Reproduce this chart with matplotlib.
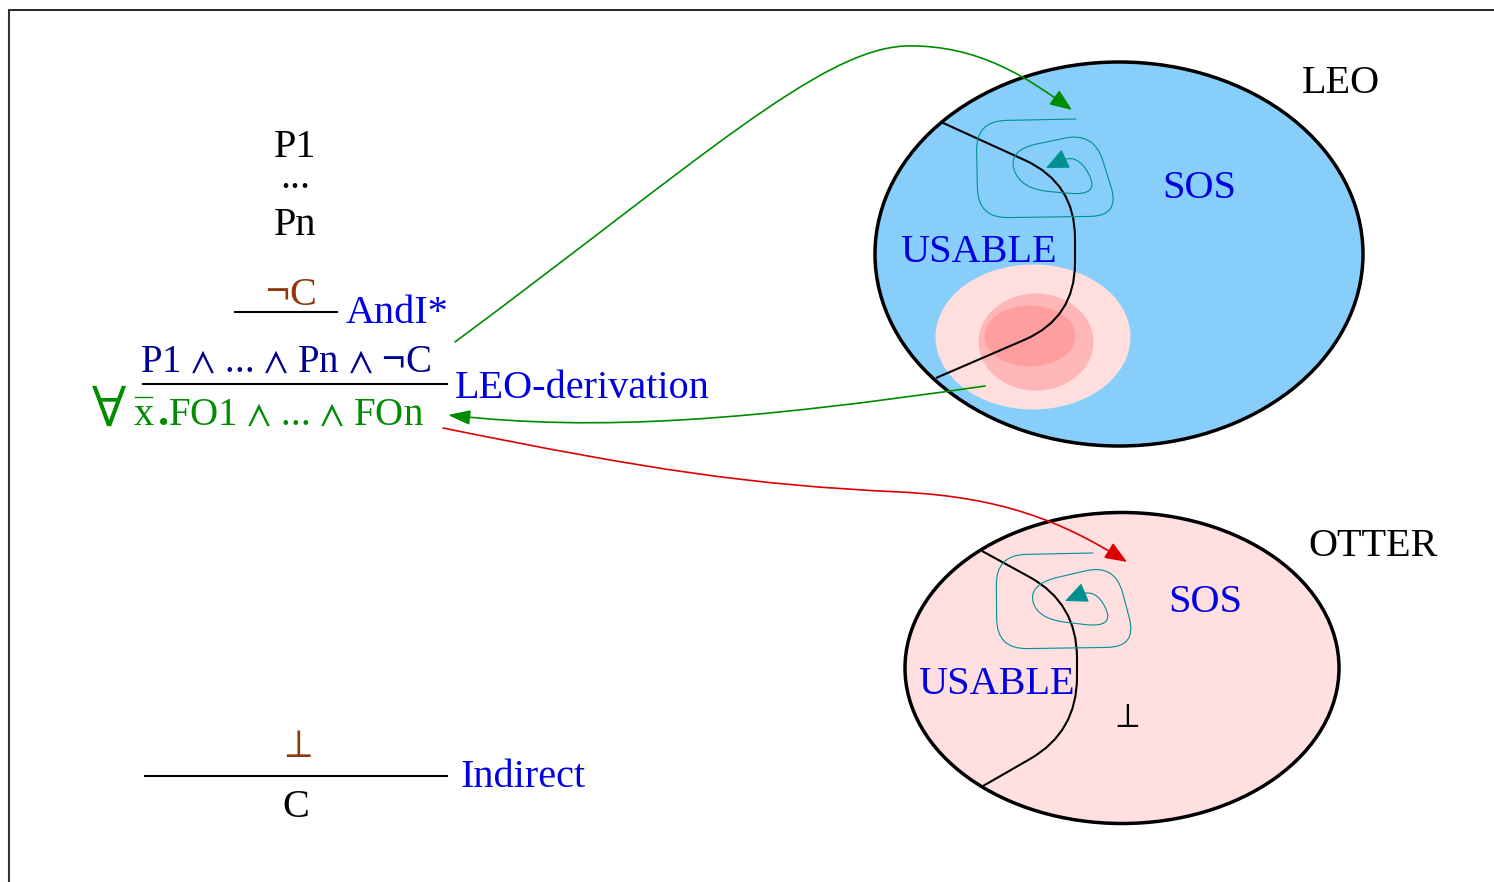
import numpy as np
import matplotlib
matplotlib.use('Agg')
import matplotlib.pyplot as plt
from matplotlib.patches import Ellipse, FancyArrowPatch, PathPatch
from matplotlib.path import Path

plt.rcParams['font.family'] = ['Liberation Serif', 'DejaVu Serif']
plt.rcParams['mathtext.fontset'] = 'stix'

W, H = 1494, 882

BLUE = '#0000e0'
NAVY = '#000090'
GREEN = '#008c00'
BROWN = '#8b3a0f'
RED = '#dd0000'
TEAL = '#009090'

# the two provers: (cx, cy, width, height, face)
leo_box = (1119, 254, 488, 384, '#87cefa')
otter_box = (1122, 668, 434, 311, '#ffdfe0')
leo_blobs = [(1033, 337, 195, 145, '#ffdede'),
             (1036, 342, 115, 97, '#ffb6b6'),
             (1030, 336, 91, 61, '#ff9e9e')]

# USABLE / SOS boundary (corner points)
leo_border = [(941, 122), (1075, 183), (1075, 318), (936, 378)]
otter_border = [(982, 551), (1077, 603), (1077, 732), (983, 786)]

# given-clause loops (corner points)
leo_spiral = [(1076, 119), (976, 121), (978, 218), (1120, 216), (1094, 132),
              (1008, 150), (1020, 189), (1100, 196), (1078, 153), (1046, 168)]
otter_spiral = [(1093, 553), (996, 555), (997, 649), (1137, 647), (1115, 564),
                (1029, 584), (1037, 619), (1115, 628), (1096, 588), (1065, 601)]

# big arrows (cubic bezier control points)
to_leo = [(455, 342), (700, 160), (820, 50), (905, 46), (980, 44), (1030, 80), (1072, 110)]
from_leo = [(985, 386), (750, 420), (600, 432), (448, 415)]
to_otter = [(443, 428), (650, 470), (750, 485), (900, 492), (1000, 497), (1060, 520), (1127, 562)]


def rounded(points, r):
    pts = np.array(points, float)
    verts = [pts[0]]
    codes = [Path.MOVETO]
    for i in range(1, len(pts) - 1):
        p, c, n = pts[i - 1], pts[i], pts[i + 1]
        d1, d2 = p - c, n - c
        l1, l2 = np.hypot(*d1), np.hypot(*d2)
        a = c + d1 / l1 * min(r, l1 / 2)
        b = c + d2 / l2 * min(r, l2 / 2)
        verts += [a, c, b]
        codes += [Path.LINETO, Path.CURVE3, Path.CURVE3]
    verts.append(pts[-1])
    codes.append(Path.LINETO)
    return Path(verts, codes)


def bezier(points):
    return Path(points, [Path.MOVETO] + [Path.CURVE4] * (len(points) - 1))


fig = plt.figure(figsize=(W / 100, H / 100), dpi=100)
ax = fig.add_axes([0, 0, 1, 1])
ax.set_xlim(0, W)
ax.set_ylim(H, 0)
ax.axis('off')

# frame
ax.plot([9, W], [10, 10], color='black', lw=1.2)
ax.plot([9, 9], [10, H], color='#333333', lw=1.5)

# ellipses
for cx, cy, w, h, fc in [leo_box, otter_box]:
    ax.add_patch(Ellipse((cx, cy), w, h, facecolor=fc, edgecolor='none', zorder=1))
for cx, cy, w, h, fc in leo_blobs:
    ax.add_patch(Ellipse((cx, cy), w, h, facecolor=fc, edgecolor='none', zorder=2))
for cx, cy, w, h, fc in [leo_box, otter_box]:
    ax.add_patch(Ellipse((cx, cy), w, h, facecolor='none', edgecolor='black', lw=2.5, zorder=5))

# boundaries
for pts in [leo_border, otter_border]:
    ax.add_patch(PathPatch(rounded(pts, 55), facecolor='none', edgecolor='black', lw=1.5, zorder=4))

# spirals
for pts in [leo_spiral, otter_spiral]:
    ax.add_patch(FancyArrowPatch(path=rounded(pts, 30), arrowstyle='-|>,head_length=0.55,head_width=0.25',
                                 mutation_scale=26, color=TEAL, lw=0.8, zorder=4))

# arrows
ax.add_patch(FancyArrowPatch(path=bezier(to_leo), arrowstyle='-|>,head_length=0.45,head_width=0.18',
                             mutation_scale=30, color=GREEN, lw=1.2, zorder=6))
ax.add_patch(FancyArrowPatch(path=bezier(from_leo), arrowstyle='-|>,head_length=0.45,head_width=0.15',
                             mutation_scale=30, color=GREEN, lw=1.2, zorder=6))
ax.add_patch(FancyArrowPatch(path=bezier(to_otter), arrowstyle='-|>,head_length=0.45,head_width=0.18',
                             mutation_scale=30, color=RED, lw=1.2, zorder=6))

fs = 29
# ellipse labels
ax.text(1302, 93, 'LEO', fontsize=fs, color='black')
ax.text(1162, 198, 'SOS', fontsize=fs, color=BLUE)
ax.text(900, 262, 'USABLE', fontsize=fs, color=BLUE, zorder=6)
ax.text(1308, 556, 'OTTER', fontsize=fs, color='black')
ax.text(1168, 612, 'SOS', fontsize=fs, color=BLUE)
ax.text(918, 694, 'USABLE', fontsize=fs, color=BLUE, zorder=6)
ax.text(1125, 727, r'$\bot$', fontsize=25, color='black', ha='center')

# derivation
ax.text(295, 157, 'P1', fontsize=fs, ha='center')
ax.text(295, 188, '...', fontsize=fs, ha='center')
ax.text(295, 235, 'Pn', fontsize=fs, ha='center')

ax.text(290, 305, r'$\neg$C', fontsize=fs, color=BROWN, ha='center')
ax.plot([235, 337], [312, 312], color='black', lw=1.5)
ax.text(346, 323, 'AndI*', fontsize=fs, color=BLUE)

ax.text(140, 372, r'P1 $\wedge$ ... $\wedge$ Pn $\wedge$ $\neg$C', fontsize=28, color=NAVY)
ax.plot([143, 447], [384, 384], color='black', lw=1.5)
ax.text(455, 398, 'LEO-derivation', fontsize=fs, color=BLUE)

ax.text(91, 426, r'$\forall$', fontsize=44, color=GREEN)
ax.text(134, 425, 'x', fontsize=fs, color=GREEN)
ax.plot([135, 152], [397, 397], color=GREEN, lw=1.0)
ax.text(158, 425, '.', fontsize=32, color=GREEN, fontweight='bold')
ax.text(168, 425, r'FO1 $\wedge$ ... $\wedge$ FOn', fontsize=28, color=GREEN)

ax.text(296, 757, r'$\bot$', fontsize=fs, color=BROWN, ha='center')
ax.plot([145, 447], [776, 776], color='black', lw=1.5)
ax.text(296, 817, 'C', fontsize=fs, ha='center')
ax.text(460, 787, 'Indirect', fontsize=fs, color=BLUE)

fig.savefig('out.png', dpi=100)
